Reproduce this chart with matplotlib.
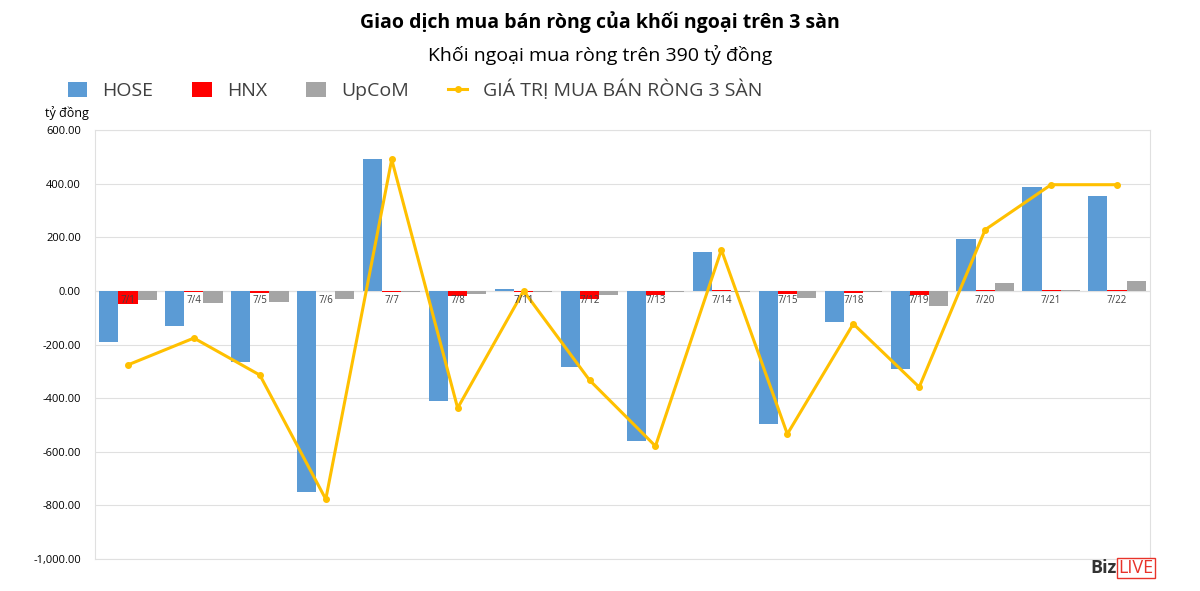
import matplotlib.pyplot as plt
import numpy as np

plt.rcParams['font.family'] = ['Open Sans', 'DejaVu Sans']

days = ["7/1", "7/4", "7/5", "7/6", "7/7", "7/8", "7/11", "7/12",
        "7/13", "7/14", "7/15", "7/18", "7/19", "7/20", "7/21", "7/22"]
hose = [-190, -130, -265, -750, 490, -410, 8, -283,
        -560, 145, -497, -115, -290, 195, 388, 355]
hnx = [-50, -3, -8, -2, -3, -18, -5, -30,
       -15, 5, -12, -8, -15, 3, 3, 3]
upcom = [-35, -45, -40, -30, -5, -12, -3, -15,
         -5, -3, -28, -3, -55, 28, 2, 35]
total = [-276, -176, -314, -777, 490, -437, 0, -333,
         -579, 153, -534, -123, -359, 228, 396, 396]

fig = plt.figure(figsize=(12, 5.91), dpi=100)
ax = fig.add_axes([95/1200, 1 - 559/591, 1055/1200, 429/591])

x = np.arange(len(days))
w = 0.29
b1 = ax.bar(x - w, hose, w, color='#5b9bd5', label='HOSE', zorder=2)
b2 = ax.bar(x, hnx, w, color='#ff0000', label='HNX', zorder=2)
b3 = ax.bar(x + w, upcom, w, color='#a5a5a5', label='UpCoM', zorder=2)
l1, = ax.plot(x, total, color='#ffc000', lw=2.2, marker='o', ms=4,
              label='GIÁ TRỊ MUA BÁN RÒNG 3 SÀN', zorder=3)

ax.set_xlim(-0.5, len(days) - 0.5)
ax.set_ylim(-1000, 600)
ax.set_yticks(range(-1000, 601, 200))
ax.set_yticklabels([f"{v:,.2f}" for v in range(-1000, 601, 200)], fontsize=8)
ax.tick_params(axis='y', length=0, pad=10)
ax.set_xticks([])
for i, d in enumerate(days):
    ax.text(i, -15, d, ha='center', va='top', fontsize=7, color='#404040', zorder=4)
ax.grid(axis='y', color='#e0e0e0', lw=0.8, zorder=0)
ax.axhline(0, color='#d0d0d0', lw=0.8, zorder=1)
for s in ax.spines.values():
    s.set_color('#e0e0e0')

fig.text(0.5, 1 - 22/591, "Giao dịch mua bán ròng của khối ngoại trên 3 sàn",
         ha='center', va='center', fontsize=14, fontweight='bold')
fig.text(0.5, 1 - 55/591, "Khối ngoại mua ròng trên 390 tỷ đồng",
         ha='center', va='center', fontsize=14)
fig.text(45/1200, 1 - 113/591, "tỷ đồng", ha='left', va='center', fontsize=9)
fig.legend(handles=[b1, b2, b3, l1], loc='center left',
           bbox_to_anchor=(50/1200, 1 - 90/591), ncol=4,
           frameon=False, fontsize=14, labelcolor='#404040',
           handlelength=1.0, handleheight=0.8, columnspacing=2.0)
fig.text(1090/1200, 1 - 568/591, "Biz", ha='left', va='center',
         fontsize=13, fontweight='bold', color='#333333')
fig.text(1118/1200, 1 - 568/591, "LIVE", ha='left', va='center', fontsize=13,
         color='#e8332a', bbox=dict(facecolor='white', edgecolor='#e8332a', pad=1))

plt.savefig("out.png", dpi=100)
